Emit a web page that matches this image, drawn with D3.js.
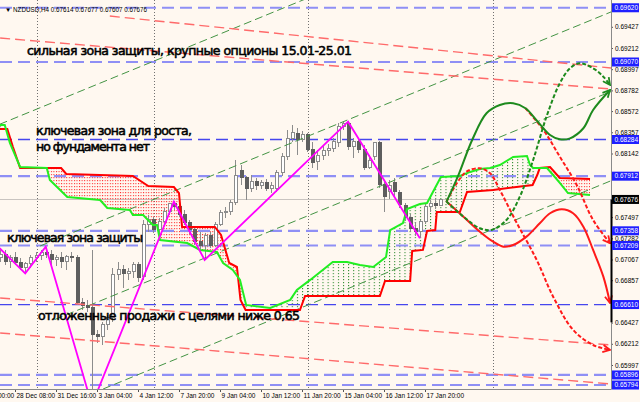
<!DOCTYPE html>
<html><head><meta charset="utf-8">
<script src="https://cdn.jsdelivr.net/npm/d3@7/dist/d3.min.js"></script>
<style>
html,body{margin:0;padding:0;background:#fff8f0;}
svg{display:block;}
</style></head>
<body>
<svg id="chart" width="640" height="402"></svg>
<script>
// ---------------- data ----------------
const symbolInfo = "NZDUSD,H4  0.67614 0.67677 0.67607 0.67676";
const firstBar = -3;
// [open, high, low, close] per H4 bar, starting at bar index firstBar
const ohlc = [
[0.67083,0.67184,0.67042,0.67113],[0.67113,0.67164,0.67012,0.67042],[0.67042,0.67113,0.66981,0.67083],
[0.67083,0.67143,0.67012,0.67032],[0.67032,0.67083,0.66961,0.66981],[0.66981,0.67042,0.66930,0.67022],
[0.67022,0.67113,0.66981,0.67083],[0.67083,0.67143,0.67042,0.67103],[0.67103,0.67164,0.67062,0.67143],
[0.67143,0.67194,0.67083,0.67113],[0.67113,0.67164,0.67012,0.67062],[0.67062,0.67113,0.67002,0.67083],
[0.67083,0.67143,0.66981,0.67042],[0.67042,0.67113,0.66961,0.67093],[0.67093,0.67143,0.67042,0.67083],
[0.67083,0.67113,0.66606,0.66626],[0.66626,0.66677,0.66555,0.66596],[0.66596,0.66657,0.66535,0.66576],
[0.66576,0.67164,0.65592,0.66302],[0.66302,0.66353,0.66221,0.66282],[0.66282,0.66434,0.66200,0.66403],
[0.66403,0.66505,0.66353,0.66474],[0.66474,0.66981,0.66434,0.66910],[0.66910,0.67042,0.66860,0.66961],
[0.66961,0.67012,0.66778,0.66920],[0.66920,0.66981,0.66860,0.66941],[0.66941,0.67042,0.66880,0.67012],
[0.67012,0.67042,0.66839,0.66880],[0.66890,0.67468,0.66860,0.67417],[0.67417,0.67519,0.67346,0.67468],
[0.67468,0.67498,0.67336,0.67367],[0.67367,0.67488,0.67326,0.67448],[0.67448,0.67590,0.67427,0.67549],
[0.67549,0.67640,0.67519,0.67630],[0.67630,0.67654,0.67569,0.67600],[0.67600,0.67620,0.67498,0.67519],
[0.67519,0.67569,0.67417,0.67438],[0.67438,0.67468,0.67326,0.67367],[0.67367,0.67387,0.67214,0.67245],
[0.67245,0.67346,0.67174,0.67204],[0.67204,0.67336,0.67062,0.67306],[0.67306,0.67346,0.67184,0.67214],
[0.67214,0.67448,0.67194,0.67427],[0.67427,0.67569,0.67407,0.67539],[0.67539,0.67600,0.67488,0.67549],
[0.67549,0.67671,0.67519,0.67640],[0.67640,0.68076,0.67620,0.67914],[0.67965,0.68026,0.67823,0.67894],
[0.67894,0.67914,0.67671,0.67782],[0.67782,0.67924,0.67752,0.67863],[0.67863,0.67894,0.67772,0.67813],
[0.67813,0.67873,0.67782,0.67843],[0.67843,0.67884,0.67762,0.67792],[0.67792,0.67853,0.67742,0.67813],
[0.67782,0.67975,0.67752,0.67945],[0.67945,0.68147,0.67914,0.68107],[0.68107,0.68381,0.68076,0.68299],
[0.68299,0.68431,0.68259,0.68360],[0.68340,0.68401,0.68127,0.68289],[0.68289,0.68370,0.68259,0.68330],
[0.68330,0.68350,0.68157,0.68178],[0.68178,0.68259,0.67995,0.68046],[0.68056,0.68178,0.67975,0.68117],
[0.68117,0.68218,0.68076,0.68168],[0.68168,0.68239,0.68117,0.68188],[0.68188,0.68299,0.68157,0.68259],
[0.68249,0.68451,0.68208,0.68411],[0.68411,0.68465,0.68381,0.68451],[0.68451,0.68465,0.68178,0.68208],
[0.68208,0.68299,0.68097,0.68259],[0.68259,0.68289,0.68147,0.68178],[0.68178,0.68228,0.67975,0.68005],
[0.68005,0.68127,0.67985,0.68076],[0.68107,0.68259,0.68076,0.68249],[0.68249,0.68269,0.67792,0.67823],
[0.67823,0.67853,0.67549,0.67701],[0.67752,0.67873,0.67681,0.67813],[0.67843,0.67894,0.67711,0.67752],
[0.67742,0.67772,0.67590,0.67620],[0.67610,0.67640,0.67458,0.67488],[0.67488,0.67529,0.67346,0.67377],
[0.67377,0.67448,0.67306,0.67356],[0.67356,0.67468,0.67285,0.67448],[0.67448,0.67640,0.67427,0.67600],
[0.67600,0.67671,0.67549,0.67630],[0.67630,0.67691,0.67579,0.67610],[0.67614,0.67677,0.67607,0.67676]
];
const bidPrice = 0.67676;
const timeLabelBars = [-8,0,8,16,24,32,40,48,56,64,72,80];
const timeLabels = ["27 Dec 00:00","28 Dec 08:00","31 Dec 16:00","3 Jan 04:00","4 Jan 12:00","7 Jan 20:00",
  "9 Jan 04:00","10 Jan 12:00","11 Jan 20:00","15 Jan 04:00","16 Jan 12:00","17 Jan 20:00"];
const priceTicks = [0.69427,0.69212,0.68997,0.68782,0.68572,0.68357,0.68142,0.67497,0.67282,
  0.67067,0.66857,0.66427,0.66212,0.65997];
const levelsLight = [0.69620,0.69070,0.67912,0.67358,0.67209,0.65896,0.65794];
const levelsDark = [0.68284,0.66610];
const separatorBars = [4.3,27.1,57.2,93.3];
// Ichimoku cloud boundaries [bar, price]
const spanRed = [[-3,0.68391],[-1.5,0.68391],[-0.4,0.68208],[1,0.67995],[9,0.67995],[10,0.67934],[23,0.67914],
  [26,0.67812],[31,0.67802],[32,0.67741],[32.6,0.67397],[39,0.67397],[40.2,0.67316],[41.8,0.67032],[43.3,0.66991],
  [44,0.66657],[45,0.66555],[55.6,0.66555],[56.6,0.66697],[71.2,0.66697],[72.2,0.66849],[77.1,0.66849],
  [77.5,0.67153],[79.6,0.67164],[80.4,0.67356],[82,0.67366],[82.3,0.67549],[86.8,0.67549],[88.2,0.67752],
  [93.3,0.67772],[101,0.67823],[101.9,0.67924],[102.4,0.67995],[104.4,0.68005],[106.3,0.67894],[112.2,0.67884]];
const spanGreen = [[-3,0.68431],[-2,0.68431],[-1,0.68249],[1,0.68005],[6.2,0.67995],[6.8,0.67873],[10.2,0.67701],
  [16.6,0.67670],[18,0.67589],[22.4,0.67569],[23,0.67518],[25,0.67518],[26.9,0.67417],[27.7,0.67417],[28.3,0.67265],
  [33.6,0.67234],[36.1,0.67164],[39.4,0.67143],[40.6,0.67032],[42.5,0.66961],[43.9,0.66860],[45.1,0.66606],
  [49.8,0.66576],[53.7,0.66657],[55,0.66758],[57.6,0.66860],[62,0.67042],[64.8,0.67042],[67.3,0.67012],
  [69.9,0.66991],[72.4,0.67093],[73.2,0.67366],[75.7,0.67437],[76.5,0.67579],[79,0.67630],[80.4,0.67640],
  [83.1,0.67904],[86.8,0.67914],[88.8,0.67955],[90.7,0.67985],[92.7,0.67995],[94.6,0.68025],[97.2,0.68107],
  [99.9,0.68117],[100.5,0.68025],[101.1,0.67995],[103.8,0.67995],[105,0.67924],[106.3,0.67843],[107.9,0.67741],
  [112.2,0.67721]];
const zigzag = [[-3,0.67181],[2,0.66927],[6,0.67197],[15,0.65591],[31,0.67653],[37,0.67062],[65,0.68465],[79,0.67282]];
const channelLines = [
  [[-3,0.68438],[57,0.69716]],
  [[4.9,0.67204],[116.5,0.69582]],
  [[7.8,0.66459],[116.5,0.68775]],
  [[17.2,0.65754],[116.5,0.67870]]];
const resistLines = [
  [[18.5,0.69536],[116.3,0.69009]],
  [[-2.9,0.69313],[116.3,0.68796]],
  [[-2.9,0.66677],[116.3,0.66200]],
  [[-2.9,0.66322],[116.3,0.65805]]];
const pathGreenSolid = [[84.2,0.67654],[86.4,0.67907],[89.2,0.68279],[92.0,0.68550],[94.6,0.68634],[97.2,0.68651],
  [99.6,0.68601],[102.0,0.68465],[104.4,0.68330],[106.3,0.68286],[108.3,0.68296],[110.9,0.68398],[112.8,0.68583],[116.1,0.68786]];
const pathGreenDash = [[84.2,0.67654],[87.5,0.67501],[90.7,0.67384],[93.0,0.67367],[95.9,0.67468],[98.5,0.67704],
  [101.1,0.68076],[103.7,0.68515],[106.3,0.68854],[108.3,0.69006],[110.2,0.69057],[112.8,0.69006],[114.8,0.68921],[116.1,0.68837]];
const pathRedFromPeak = [[99.6,0.68601],[103.1,0.68381],[106.3,0.68110],[109.6,0.67823],[112.8,0.67468],[116.1,0.67232]];
const pathRedDash = [[84.2,0.67654],[86.2,0.67840],[88.1,0.67958],[90.7,0.67992],[92.7,0.67941],[94.6,0.67772],
  [97.8,0.67448],[101.8,0.67062],[105.0,0.66690],[108.9,0.66353],[112.8,0.66200],[116.1,0.66150]];
const pathRedSolid = [[84.2,0.67654],[87.5,0.67501],[90.7,0.67349],[93.3,0.67248],[95.3,0.67197],[97.2,0.67214],
  [99.8,0.67299],[102.4,0.67434],[104.4,0.67536],[106.7,0.67576],[108.9,0.67536],[110.9,0.67400],[112.8,0.67164],
  [114.8,0.66893],[116.1,0.66626]];
const notes = ["сильная зона защиты, крупные опционы 15.01-25.01","ключевая зона для роста,","но фундамента нет",
  "ключевая зона защиты","отложенные продажи с целями ниже 0,65"];

// ---------------- layout ----------------
const plotR = 611, plotB = 389;
const svg = d3.select('#chart');
const x = d3.scaleLinear().domain([0,80]).range([15,425]);
const y = d3.scaleLinear().domain([0.657536,0.696988]).range([plotB,0]);
const bg = '#fff8f0';
svg.append('rect').attr('width',640).attr('height',402).attr('fill',bg);
const defs = svg.append('defs');
defs.append('clipPath').attr('id','plotClip').append('rect').attr('x',0).attr('y',0).attr('width',plotR).attr('height',plotB);

const bw = x(1)-x(0);
const pR = defs.append('pattern').attr('id','dotR').attr('patternUnits','userSpaceOnUse')
  .attr('width',bw/2).attr('height',3).attr('x',x(0)).attr('y',0);
pR.append('rect').attr('width',1).attr('height',1.2).attr('fill','#ff3030');
const pG = defs.append('pattern').attr('id','dotG').attr('patternUnits','userSpaceOnUse')
  .attr('width',bw).attr('height',3).attr('x',x(0)).attr('y',0);
pG.append('rect').attr('width',1).attr('height',1.2).attr('fill','#2b8a2b');

function poly(points, edge){
  const pts = points.map(d=>[x(d[0]),y(d[1])]);
  const f = pts[0], l = pts[pts.length-1];
  return 'M'+pts.map(p=>p[0].toFixed(2)+','+p[1].toFixed(2)).join('L')+`L${l[0]},${edge}L${f[0]},${edge}Z`;
}
defs.append('clipPath').attr('id','belowRed').append('path').attr('d',poly(spanRed,plotB+50));
defs.append('clipPath').attr('id','belowGreen').append('path').attr('d',poly(spanGreen,plotB+50));

function marker(id,color){
  defs.append('marker').attr('id',id).attr('viewBox','0 0 10 10').attr('refX',9).attr('refY',5)
    .attr('markerWidth',9).attr('markerHeight',9).attr('markerUnits','userSpaceOnUse').attr('orient','auto')
    .append('path').attr('d','M1,1 L9,5 L1,9').attr('fill','none').attr('stroke',color).attr('stroke-width',2);
}
marker('arG','#1d8a1d'); marker('arR','#ff1a1a');

const plot = svg.append('g').attr('clip-path','url(#plotClip)');
const line = d3.line().x(d=>x(d[0])).y(d=>y(d[1]));

// period separators
plot.selectAll('.sep').data(separatorBars).join('line')
  .attr('x1',d=>Math.round(x(d))+0.5).attr('x2',d=>Math.round(x(d))+0.5).attr('y1',0).attr('y2',plotB)
  .attr('stroke','#707070').attr('stroke-width',1).attr('stroke-dasharray','1,2');
// bid line
plot.append('line').attr('x1',0).attr('x2',plotR).attr('y1',Math.round(y(bidPrice))+0.5).attr('y2',Math.round(y(bidPrice))+0.5)
  .attr('stroke','#c9c4c0').attr('stroke-width',1);

// cloud fills
plot.append('path').attr('d',poly(spanGreen,-50)).attr('fill','url(#dotR)').attr('clip-path','url(#belowRed)');
plot.append('path').attr('d',poly(spanRed,-50)).attr('fill','url(#dotG)').attr('clip-path','url(#belowGreen)');

// horizontal levels
plot.selectAll('.lvL').data(levelsLight).join('line')
  .attr('x1',0).attr('x2',plotR).attr('y1',d=>y(d)).attr('y2',d=>y(d))
  .attr('stroke','#8f8ff5').attr('stroke-width',2.2).attr('stroke-dasharray','12,6');
plot.selectAll('.lvD').data(levelsDark).join('line')
  .attr('x1',0).attr('x2',plotR).attr('y1',d=>y(d)).attr('y2',d=>y(d))
  .attr('stroke','#4646ee').attr('stroke-width',1.3).attr('stroke-dasharray','12,6');

// candles
const cg = plot.append('g').attr('shape-rendering','crispEdges');
const cx = (d,i)=>Math.round(x(firstBar+i))+0.5;
cg.selectAll('.wick').data(ohlc).join('line')
  .attr('x1',cx).attr('x2',cx).attr('y1',d=>y(d[1])).attr('y2',d=>y(d[2])).attr('stroke','#8c8c8c');
cg.selectAll('.body').data(ohlc).join('rect')
  .attr('x',(d,i)=>cx(d,i)-1.5).attr('y',d=>y(Math.max(d[0],d[3])))
  .attr('width',3).attr('height',d=>Math.max(1,Math.abs(y(d[0])-y(d[3]))))
  .attr('fill',d=>d[3]>=d[0]?'#ffffff':'#5e5e5e').attr('stroke',d=>d[3]>=d[0]?'#8c8c8c':'#5e5e5e');

// channel and resistance lines
plot.selectAll('.chan').data(channelLines).join('path').attr('d',line)
  .attr('fill','none').attr('stroke','#449444').attr('stroke-width',1).attr('stroke-dasharray','8,4');
plot.selectAll('.res').data(resistLines).join('path').attr('d',line)
  .attr('fill','none').attr('stroke','#ff6a6a').attr('stroke-width',1.4).attr('stroke-dasharray','10,5');

// cloud lines
plot.append('path').attr('d',line(spanRed)).attr('fill','none').attr('stroke','#ff0000').attr('stroke-width',2);
plot.append('path').attr('d',line(spanGreen)).attr('fill','none').attr('stroke','#22ee22').attr('stroke-width',2);

// zigzag
plot.append('path').attr('d',line(zigzag)).attr('fill','none').attr('stroke','#ff00ff').attr('stroke-width',1.8);

// forecast curves
const curve = d3.line().x(d=>x(d[0])).y(d=>y(d[1])).curve(d3.curveCatmullRom.alpha(0.5));
const fg = svg.append('g');
fg.append('path').attr('d',curve(pathRedSolid)).attr('fill','none').attr('stroke','#ff1a1a').attr('stroke-width',2).attr('marker-end','url(#arR)');
fg.append('path').attr('d',curve(pathRedDash)).attr('fill','none').attr('stroke','#ff1a1a').attr('stroke-width',2).attr('stroke-dasharray','4,2').attr('marker-end','url(#arR)');
fg.append('path').attr('d',curve(pathRedFromPeak)).attr('fill','none').attr('stroke','#ff1a1a').attr('stroke-width',2).attr('stroke-dasharray','4,2').attr('marker-end','url(#arR)');
fg.append('path').attr('d',curve(pathGreenDash)).attr('fill','none').attr('stroke','#1d8a1d').attr('stroke-width',2).attr('stroke-dasharray','4,2').attr('marker-end','url(#arG)');
fg.append('path').attr('d',curve(pathGreenSolid)).attr('fill','none').attr('stroke','#1d8a1d').attr('stroke-width',2).attr('marker-end','url(#arG)');

// annotations
const noteLayout = [[27,55,325],[36,135,156],[36,151,114],[7,242,136],[38,320,262]];
svg.selectAll('.note').data(notes).join('text')
  .attr('x',(d,i)=>noteLayout[i][0]).attr('y',(d,i)=>noteLayout[i][1])
  .attr('textLength',(d,i)=>noteLayout[i][2]).attr('lengthAdjust','spacing')
  .attr('font-family','DejaVu Sans, sans-serif').attr('font-size',12.5)
  .attr('fill','#000').attr('stroke','#000').attr('stroke-width',0.55)
  .text(d=>d);

// info label
svg.append('text').attr('x',5).attr('y',12).attr('font-family','Liberation Sans, Arial, sans-serif')
  .attr('font-size',6.3).attr('fill','#000').text('▼  '+symbolInfo);

// axes
const yAx = svg.append('g').attr('transform',`translate(${plotR},0)`)
  .call(d3.axisRight(y).tickValues(priceTicks).tickSize(2).tickSizeOuter(0).tickPadding(2).tickFormat(d3.format('.5f')));
yAx.select('.domain').remove();
yAx.selectAll('line').attr('stroke','#555');
yAx.selectAll('text').attr('font-family','Liberation Sans, Arial, sans-serif').attr('font-size',6.5).attr('fill','#000');

const xAx = svg.append('g').attr('transform',`translate(0,${plotB})`)
  .call(d3.axisBottom(x).tickValues(timeLabelBars).tickSize(3).tickSizeOuter(0).tickPadding(1).tickFormat((d,i)=>timeLabels[i]));
xAx.select('.domain').remove();
xAx.selectAll('line').attr('stroke','#555');
xAx.selectAll('text').attr('text-anchor','start').attr('dx',1)
  .attr('font-family','Liberation Sans, Arial, sans-serif').attr('font-size',6.5).attr('fill','#000');

// plot frame
svg.append('line').attr('x1',plotR+0.5).attr('x2',plotR+0.5).attr('y1',0).attr('y2',plotB+0.5).attr('stroke','#8a8a8a');
svg.append('line').attr('x1',0).attr('x2',plotR+0.5).attr('y1',plotB+0.5).attr('y2',plotB+0.5).attr('stroke','#8a8a8a');
svg.append('line').attr('x1',plotR+0.5).attr('x2',plotR+0.5).attr('y1',y(bidPrice)).attr('y2',y(0.66430))
  .attr('stroke','#000').attr('stroke-width',2);

// highlighted level labels
const hl = svg.append('g');
const allLevels = levelsLight.concat(levelsDark);
hl.selectAll('rect').data(allLevels).join('rect')
  .attr('x',plotR+1).attr('y',d=>Math.max(0,y(d)-4.5)).attr('width',27).attr('height',9).attr('fill','#1f1fff');
hl.selectAll('text').data(allLevels).join('text')
  .attr('x',plotR+3.5).attr('y',d=>Math.max(4.5,y(d))).attr('dy','0.34em')
  .attr('font-family','Liberation Sans, Arial, sans-serif').attr('font-size',6.5).attr('fill','#fff')
  .text(d=>d3.format('.5f')(d));
hl.append('rect').attr('x',plotR+1).attr('y',y(bidPrice)-4.5).attr('width',27).attr('height',9).attr('fill','#000');
hl.append('text').attr('x',plotR+3.5).attr('y',y(bidPrice)).attr('dy','0.34em')
  .attr('font-family','Liberation Sans, Arial, sans-serif').attr('font-size',6.5).attr('fill','#fff')
  .text(d3.format('.5f')(bidPrice));
</script>
</body></html>
